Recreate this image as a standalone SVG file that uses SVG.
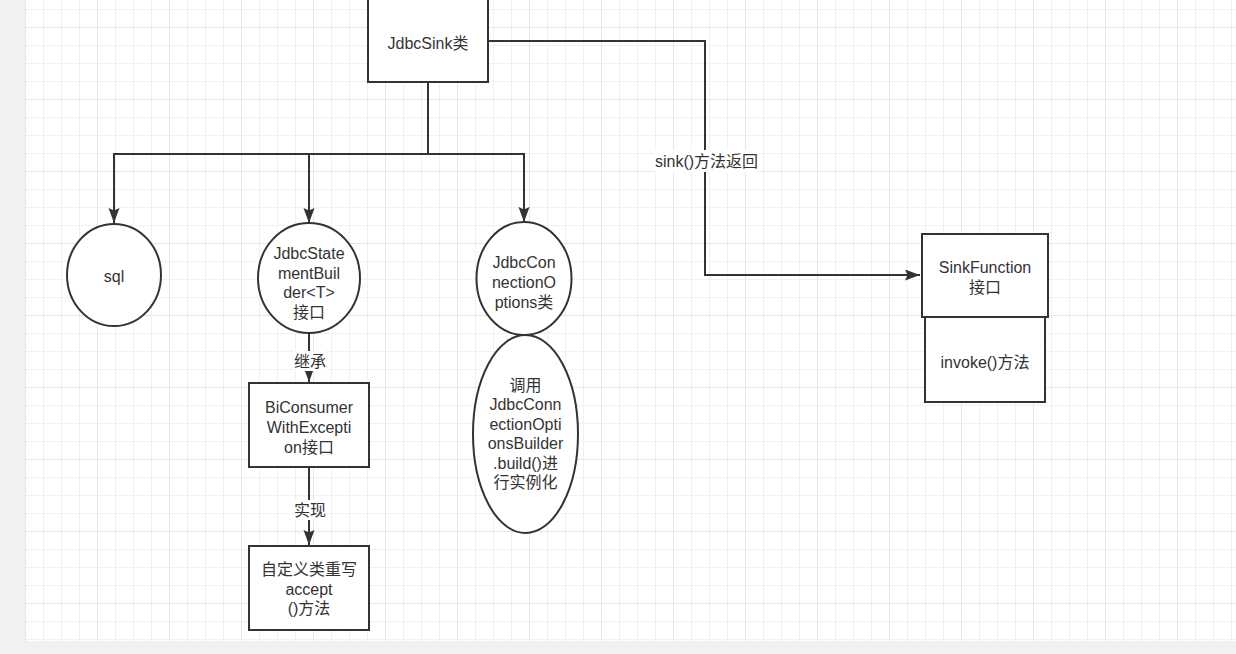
<svg xmlns="http://www.w3.org/2000/svg" width="1236" height="654" viewBox="0 0 1236 654">
  <defs>
    <pattern id="gridMinor" x="25" y="9" width="18" height="18" patternUnits="userSpaceOnUse">
      <rect x="0" y="0" width="18" height="1" fill="#f1f1f1"/>
      <rect x="0" y="0" width="1" height="18" fill="#f1f1f1"/>
    </pattern>
    <pattern id="gridMajor" x="25" y="27" width="72" height="72" patternUnits="userSpaceOnUse">
      <rect x="0" y="0" width="72" height="1" fill="#e6e6e6"/>
      <rect x="0" y="0" width="1" height="72" fill="#e6e6e6"/>
    </pattern>
    <marker id="arrow" markerUnits="userSpaceOnUse" markerWidth="16" markerHeight="12" refX="15" refY="5.5" orient="auto">
      <path d="M0,0 L15,5.5 L0,11 L2.5,5.5 Z" fill="#333333"/>
    </marker>
  </defs>
  <style>
    .shape { fill: #ffffff; stroke: #333333; stroke-width: 2; }
    .edge { fill: none; stroke: #333333; stroke-width: 2; }
    .label { font-family: "Liberation Sans", "Noto Sans CJK SC", sans-serif; font-size: 16px; fill: #333333; text-anchor: middle; dominant-baseline: central; }
    .lblbg { fill: #ffffff; stroke: none; }
  </style>

  <rect x="0" y="0" width="1236" height="654" fill="#f1f1f1"/>
  <rect x="25" y="0" width="1211" height="641" fill="#ffffff"/>
  <rect x="25" y="0" width="1211" height="641" fill="url(#gridMinor)"/>
  <rect x="25" y="0" width="1211" height="641" fill="url(#gridMajor)"/>

  <g id="connectors">
    <path class="edge" d="M428,82 V154 H114 V223" marker-end="url(#arrow)"/>
    <path class="edge" d="M428,154 H309 V223" marker-end="url(#arrow)"/>
    <path class="edge" d="M428,154 H524 V222" marker-end="url(#arrow)"/>
    <path class="edge" d="M488,41 H705 V275 H920" marker-end="url(#arrow)"/>
    <rect class="lblbg" x="655" y="150" width="103" height="22"/>
    <text class="label" x="706.5" y="161">sink()方法返回</text>
    <path class="edge" d="M309,333 V382" marker-end="url(#arrow)"/>
    <rect class="lblbg" x="294" y="351" width="32" height="20"/>
    <text class="label" x="310" y="361">继承</text>
    <path class="edge" d="M309,467 V545" marker-end="url(#arrow)"/>
    <rect class="lblbg" x="294" y="500" width="32" height="20"/>
    <text class="label" x="310" y="510">实现</text>
  </g>

  <g id="jdbcSink">
    <rect class="shape" x="368" y="-2" width="120" height="84"/>
    <text class="label" x="428" y="43">JdbcSink类</text>
  </g>

  <g id="sql">
    <ellipse class="shape" cx="114" cy="275" rx="47" ry="51"/>
    <text class="label" x="114" y="276">sql</text>
  </g>

  <g id="jdbcStatementBuilder">
    <ellipse class="shape" cx="309" cy="278" rx="51" ry="55"/>
    <text class="label" x="309" y="253">JdbcState</text>
    <text class="label" x="309" y="273">mentBuil</text>
    <text class="label" x="309" y="292">der&lt;T&gt;</text>
    <text class="label" x="309" y="312">接口</text>
  </g>

  <g id="jdbcConnectionOptions">
    <ellipse class="shape" cx="524" cy="278.5" rx="47.5" ry="56.5"/>
    <text class="label" x="524" y="262">JdbcCon</text>
    <text class="label" x="524" y="282">nectionO</text>
    <text class="label" x="524" y="302">ptions类</text>
  </g>

  <g id="builderCall">
    <ellipse class="shape" cx="525.5" cy="434" rx="52.5" ry="99"/>
    <text class="label" x="525.5" y="385">调用</text>
    <text class="label" x="525.5" y="404.5">JdbcConn</text>
    <text class="label" x="525.5" y="424">ectionOpti</text>
    <text class="label" x="525.5" y="443.5">onsBuilder</text>
    <text class="label" x="525.5" y="463">.build()进</text>
    <text class="label" x="525.5" y="482.5">行实例化</text>
  </g>

  <g id="biConsumer">
    <rect class="shape" x="249" y="383" width="120" height="84"/>
    <text class="label" x="309" y="407">BiConsumer</text>
    <text class="label" x="309" y="427">WithExcepti</text>
    <text class="label" x="309" y="447">on接口</text>
  </g>

  <g id="customClass">
    <rect class="shape" x="249" y="546" width="120" height="84"/>
    <text class="label" x="309" y="569">自定义类重写</text>
    <text class="label" x="309" y="589">accept</text>
    <text class="label" x="309" y="608">()方法</text>
  </g>

  <g id="invoke">
    <rect class="shape" x="925" y="317" width="120" height="85"/>
    <text class="label" x="985" y="362">invoke()方法</text>
  </g>

  <g id="sinkFunction">
    <rect class="shape" x="922" y="234" width="126" height="83"/>
    <text class="label" x="985" y="267">SinkFunction</text>
    <text class="label" x="985" y="287">接口</text>
  </g>
</svg>
